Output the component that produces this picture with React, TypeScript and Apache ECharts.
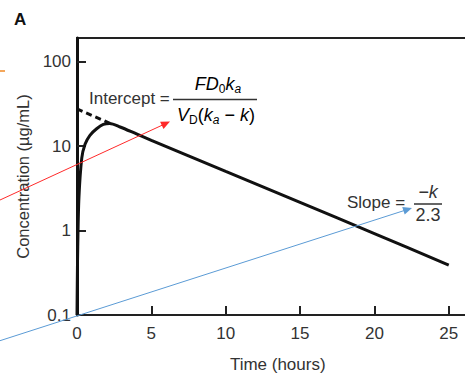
import React, { useEffect, useRef } from "react";
import * as echarts from "echarts";

// Concentration–time curve
const curveTime = [0, 0.02, 0.05, 0.13, 0.32, 0.54, 0.87, 1.32, 1.77, 2.2, 2.9, 4, 5, 10, 15, 20, 25];
const curveConc = [0.1, 0.25, 0.64, 2.45, 7.2, 10.5, 13.4, 16.0, 18.0, 18.5, 16.8, 13.9, 11.7, 5.0, 2.15, 0.92, 0.39];
// Back-extrapolated elimination line (dashed)
const extrapTime = [0, 2.3];
const extrapConc = [27.5, 18.3];
// Axis ticks
const xTicks = [0, 5, 10, 15, 20, 25];
const yTicks = [0.1, 1, 10, 100];

const FONT = "'Liberation Sans', Arial, sans-serif";
const TXT = "#333";

export default function App() {
  const ref = useRef<HTMLDivElement>(null);
  useEffect(() => {
    if (!ref.current) return;
    const chart = echarts.init(ref.current, null, { renderer: "svg" });
    const curve = curveTime.map((t, i) => [t, curveConc[i]]);
    const extrap = extrapTime.map((t, i) => [t, extrapConc[i]]);
    const sub = { fontSize: 12, lineHeight: 12, verticalAlign: "bottom", fontFamily: FONT, color: TXT };
    const subI = { ...sub, fontStyle: "italic" };
    const main = { fontSize: 18, lineHeight: 21, fontFamily: FONT, color: TXT };
    const mainI = { ...main, fontStyle: "italic" };
    chart.setOption({
      animation: false,
      backgroundColor: "#fff",
      grid: { left: 77, top: 38, right: 490 - (77 + 27 * 14.87), bottom: 59, show: true, borderColor: "#222", borderWidth: 2 },
      xAxis: {
        type: "value",
        min: 0,
        max: 27,
        interval: 5,
        name: "Time (hours)",
        nameLocation: "middle",
        nameGap: 41,
        nameTextStyle: { fontSize: 17, color: TXT, fontFamily: FONT },
        axisLine: { lineStyle: { color: "#222", width: 2 } },
        axisTick: { inside: true, length: 9, lineStyle: { color: "#222", width: 2 }, customValues: xTicks },
        axisLabel: { margin: 10, fontSize: 17, color: TXT, fontFamily: FONT, customValues: xTicks },
        splitLine: { show: false },
      },
      yAxis: {
        type: "log",
        logBase: 10,
        min: 0.1,
        max: 190,
        name: "Concentration (µg/mL)",
        nameLocation: "middle",
        nameGap: 46,
        nameTextStyle: { fontSize: 16.5, color: TXT, fontFamily: FONT },
        axisLine: { lineStyle: { color: "#111", width: 3 } },
        axisTick: { inside: true, length: 9, lineStyle: { color: "#222", width: 2 }, customValues: yTicks },
        axisLabel: { margin: 6, fontSize: 17, color: TXT, fontFamily: FONT, customValues: yTicks, formatter: (v: number) => String(v) },
        splitLine: { show: false },
        minorTick: { show: false },
      },
      series: [
        {
          type: "line",
          data: extrap,
          symbol: "none",
          lineStyle: { color: "#111", width: 3, type: [6, 4] },
          z: 3,
        },
        {
          type: "line",
          data: curve,
          symbol: "none",
          smooth: 0.3,
          lineStyle: { color: "#111", width: 3 },
          z: 4,
        },
      ],
      graphic: [
        { type: "text", left: 14, top: 11, style: { text: "A", fontSize: 17, fontWeight: "bold", fontFamily: FONT, fill: "#111" } },
        { type: "line", shape: { x1: 0, y1: 71, x2: 5, y2: 71 }, style: { stroke: "#f08a24", lineWidth: 1.5 } },
        { type: "text", x: 89, y: 98, style: { text: "Intercept =", fontSize: 17, fontFamily: FONT, fill: TXT, verticalAlign: "middle", align: "left" } },
        {
          type: "text", x: 218, y: 84,
          style: {
            text: "{i|FD}{s|0}{i|k}{si|a}", align: "center", verticalAlign: "middle",
            rich: { i: mainI, s: sub, si: subI },
          },
        },
        { type: "line", shape: { x1: 173, y1: 99.5, x2: 257, y2: 99.5 }, style: { stroke: TXT, lineWidth: 1.5 } },
        {
          type: "text", x: 216, y: 115,
          style: {
            text: "{i|V}{s|D}{m|(}{i|k}{si|a}{m| − }{i|k}{m|)}", align: "center", verticalAlign: "middle",
            rich: { i: mainI, m: main, s: sub, si: subI },
          },
        },
        { type: "text", x: 347, y: 202, style: { text: "Slope =", fontSize: 17, fontFamily: FONT, fill: TXT, verticalAlign: "middle", align: "left" } },
        { type: "text", x: 428, y: 192, style: { text: "−k", fontSize: 18, fontStyle: "italic", fontFamily: FONT, fill: TXT, verticalAlign: "middle", align: "center" } },
        { type: "line", shape: { x1: 414, y1: 204, x2: 442, y2: 204 }, style: { stroke: TXT, lineWidth: 1.5 } },
        { type: "text", x: 428, y: 215, style: { text: "2.3", fontSize: 18, fontFamily: FONT, fill: TXT, verticalAlign: "middle", align: "center" } },
        { type: "line", shape: { x1: 0, y1: 200, x2: 163, y2: 124.8 }, style: { stroke: "#ff2a2a", lineWidth: 1 }, z: 10 },
        { type: "polygon", shape: { points: [[170, 121.5], [163.5, 128.9], [160.1, 121.7]] }, style: { fill: "#ff2a2a" }, z: 10 },
        { type: "line", shape: { x1: 0, y1: 340.7, x2: 404, y2: 210.6 }, style: { stroke: "#5b9bd5", lineWidth: 1 }, z: 10 },
        { type: "polygon", shape: { points: [[412, 208], [404.7, 214.6], [402.2, 207.0]] }, style: { fill: "#5b9bd5" }, z: 10 },
      ],
    });
    return () => chart.dispose();
  }, []);
  return (
    <div style={{ position: "fixed", left: 0, top: 0, width: 465, height: 378, overflow: "hidden", background: "#fff" }}>
      <div ref={ref} style={{ width: 490, height: 378 }} />
    </div>
  );
}
